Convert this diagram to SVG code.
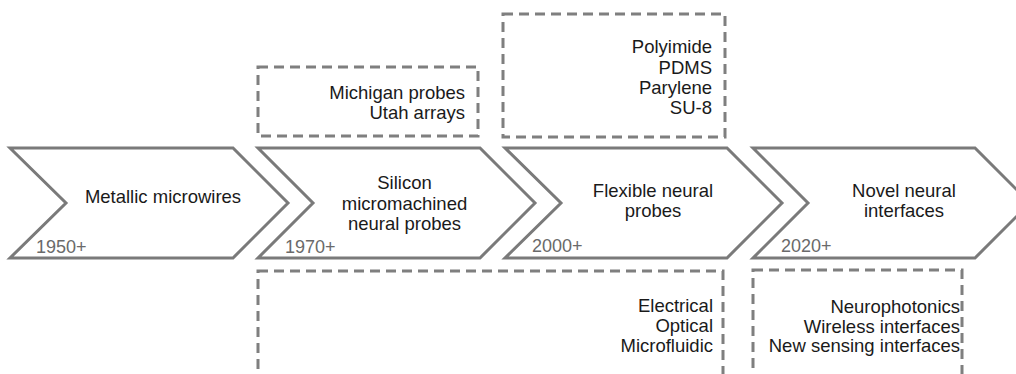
<svg xmlns="http://www.w3.org/2000/svg" width="1016" height="374" viewBox="0 0 1016 374">
<style>
.chev{fill:#fff;stroke:#7a7a7a;stroke-width:3;stroke-linejoin:miter}
.box{fill:none;stroke:#7f7f7f;stroke-width:3;stroke-dasharray:10 6}
.lbl{font-family:"Liberation Sans",Arial,sans-serif;font-size:18.5px;fill:#1a1a1a;text-anchor:middle}
.side{font-family:"Liberation Sans",Arial,sans-serif;font-size:18.5px;fill:#1a1a1a;text-anchor:end}
.yr{font-family:"Liberation Sans",Arial,sans-serif;font-size:18px;fill:#6a6a6a}
</style>
<rect width="1016" height="374" fill="#fff"/>
<g id="era-1950">
<polygon class="chev" points="10,148 233,148 288,203 233,258 10,258 66,203"/>
<text class="lbl" x="163" y="203">Metallic microwires</text>
<text class="yr" x="36" y="253">1950+</text>
</g>
<g id="era-1970">
<polygon class="chev" points="258,148 480,148 535,203 480,258 258,258 313,203"/>
<text class="lbl" x="404.5" y="189">Silicon</text>
<text class="lbl" x="404.5" y="210">micromachined</text>
<text class="lbl" x="404.5" y="230">neural probes</text>
<text class="yr" x="285" y="253">1970+</text>
</g>
<g id="era-2000">
<polygon class="chev" points="505,148 727,148 782,203 727,258 505,258 561,203"/>
<text class="lbl" x="653" y="197">Flexible neural</text>
<text class="lbl" x="653" y="217">probes</text>
<text class="yr" x="532" y="252">2000+</text>
</g>
<g id="era-2020">
<polygon class="chev" points="753,148 975,148 1030,203 975,258 753,258 808,203"/>
<text class="lbl" x="904" y="197">Novel neural</text>
<text class="lbl" x="904" y="217">interfaces</text>
<text class="yr" x="781" y="252">2020+</text>
</g>
<g id="box-silicon">
<rect class="box" x="258" y="67" width="220" height="69"/>
<text class="side" x="465" y="99">Michigan probes</text>
<text class="side" x="465" y="119">Utah arrays</text>
</g>
<g id="box-materials">
<rect class="box" x="503" y="14" width="222" height="123"/>
<text class="side" x="712" y="53">Polyimide</text>
<text class="side" x="712" y="74">PDMS</text>
<text class="side" x="712" y="93.5">Parylene</text>
<text class="side" x="712" y="113.5">SU-8</text>
</g>
<g id="box-modalities">
<rect class="box" x="258" y="271" width="465" height="120"/>
<text class="side" x="713" y="312">Electrical</text>
<text class="side" x="713" y="332">Optical</text>
<text class="side" x="713" y="351.5">Microfluidic</text>
</g>
<g id="box-novel">
<rect class="box" x="753" y="270" width="209" height="120"/>
<text class="side" x="960" y="312.5">Neurophotonics</text>
<text class="side" x="960" y="332.5">Wireless interfaces</text>
<text class="side" x="960" y="352">New sensing interfaces</text>
</g>
<g id="connectors"></g>
</svg>
